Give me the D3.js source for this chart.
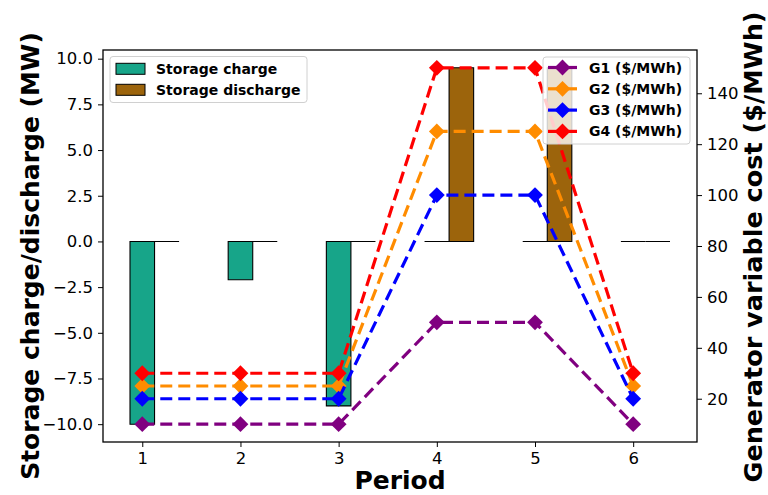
<!DOCTYPE html>
<html>
<head>
<meta charset="utf-8">
<script src="https://cdn.jsdelivr.net/npm/d3@7"></script>
<style>
  html, body { margin: 0; padding: 0; background: #fff; }
  svg text { font-family: "DejaVu Sans", sans-serif; }
</style>
</head>
<body>
<svg id="chart" width="768" height="495"></svg>
<script>
// Storage dispatch per period (MW) and generator variable costs ($/MWh)
const periods = [1, 2, 3, 4, 5, 6];
const storageCharge = [-10, -2.1, -9, 0, 0, 0];
const storageDischarge = [0, 0, 0, 9.5, 9.5, 0];
const costG1 = [10, 10, 10, 50, 50, 10];
const costG2 = [25, 25, 25, 125, 125, 25];
const costG3 = [20, 20, 20, 100, 100, 20];
const costG4 = [30, 30, 30, 150, 150, 30];
const leftTicks = [-10, -7.5, -5, -2.5, 0, 2.5, 5, 7.5, 10];
const rightTicks = [20, 40, 60, 80, 100, 120, 140];

const costSeries = [
  { name: "G1 ($/MWh)", values: costG1, color: "#800080" },
  { name: "G2 ($/MWh)", values: costG2, color: "#ff8c00" },
  { name: "G3 ($/MWh)", values: costG3, color: "#0000ff" },
  { name: "G4 ($/MWh)", values: costG4, color: "#ff0000" }
];
const chargeColor = "#17a589";
const dischargeColor = "#9c640c";

const svg = d3.select("#chart");
const plot = { left: 103, right: 697, top: 50, bottom: 442 };
const barW = 0.25;

const x = d3.scaleLinear().domain([0.6, 6.65]).range([plot.left, plot.right]);
const yL = d3.scaleLinear().domain([-10.975, 10.475]).range([plot.bottom, plot.top]);
const yR = d3.scaleLinear().domain([3, 157]).range([plot.bottom, plot.top]);

// Bars as closed outlines so that zero-valued bars still show their edge
function drawBars(vals, offset, color) {
  svg.append("g").selectAll("path").data(periods).join("path")
    .attr("d", (p, i) => {
      const x0 = x(p + offset - barW / 2), x1 = x(p + offset + barW / 2);
      const y0 = yL(0), y1 = yL(vals[i]);
      return `M${x0},${y0}L${x0},${y1}L${x1},${y1}L${x1},${y0}Z`;
    })
    .attr("fill", color)
    .attr("stroke", "#000")
    .attr("stroke-width", 1.1);
}
drawBars(storageCharge, 0, chargeColor);
drawBars(storageDischarge, barW, dischargeColor);

// Charge / discharge legend
const leg1 = svg.append("g");
leg1.append("rect").attr("x", 110).attr("y", 56.5).attr("width", 197).attr("height", 46)
  .attr("rx", 3).attr("fill", "#fff").attr("fill-opacity", 0.8)
  .attr("stroke", "#d0d0d0").attr("stroke-width", 1);
[["Storage charge", chargeColor], ["Storage discharge", dischargeColor]].forEach(([t, c], i) => {
  const cy = 68.8 + i * 21;
  leg1.append("rect").attr("x", 116).attr("y", cy - 5.5).attr("width", 29).attr("height", 11)
    .attr("fill", c).attr("stroke", "#000").attr("stroke-width", 1);
  leg1.append("text").attr("x", 156).attr("y", cy + 5).attr("font-size", 14)
    .attr("font-weight", "bold").text(t);
});

// Cost lines on the secondary axis
const diamond = d3.symbol().type(d3.symbolSquare).size(125);
costSeries.forEach((s) => {
  const line = d3.line().x((d, i) => x(periods[i])).y((d) => yR(d));
  svg.append("path").datum(s.values).attr("d", line)
    .attr("fill", "none").attr("stroke", s.color).attr("stroke-width", 3.2)
    .attr("stroke-dasharray", "12,6");
  svg.append("g").selectAll("path").data(s.values).join("path")
    .attr("d", diamond)
    .attr("transform", (d, i) => `translate(${x(periods[i])},${yR(d)}) rotate(45)`)
    .attr("fill", s.color);
});

// Generator legend
const leg2 = svg.append("g");
leg2.append("rect").attr("x", 543).attr("y", 57).attr("width", 147).attr("height", 87)
  .attr("rx", 3).attr("fill", "#fff").attr("fill-opacity", 0.8)
  .attr("stroke", "#d0d0d0").attr("stroke-width", 1);
costSeries.forEach((s, i) => {
  const cy = 67.5 + i * 21.3;
  leg2.append("line").attr("x1", 548).attr("x2", 577).attr("y1", cy).attr("y2", cy)
    .attr("stroke", s.color).attr("stroke-width", 3.2);
  leg2.append("path").attr("d", diamond)
    .attr("transform", `translate(562.5,${cy}) rotate(45)`).attr("fill", s.color);
  leg2.append("text").attr("x", 589).attr("y", cy + 5).attr("font-size", 14)
    .attr("font-weight", "bold").text(s.name);
});

// Axes
const fmtL = (d) => d3.format(".1f")(d).replace("-", "\u2212");
const axB = svg.append("g").attr("transform", `translate(0,${plot.bottom})`)
  .call(d3.axisBottom(x).tickValues(periods).tickFormat(d3.format("d")).tickSize(5).tickPadding(5));
const axL = svg.append("g").attr("transform", `translate(${plot.left},0)`)
  .call(d3.axisLeft(yL).tickValues(leftTicks).tickFormat(fmtL).tickSize(5).tickPadding(5));
const axR = svg.append("g").attr("transform", `translate(${plot.right},0)`)
  .call(d3.axisRight(yR).tickValues(rightTicks).tickFormat(d3.format("d")).tickSize(5).tickPadding(5));
[axB, axL, axR].forEach((a) => {
  a.select(".domain").remove();
  a.selectAll("text").attr("font-size", 16.5).attr("fill", "#000")
    .attr("font-family", "DejaVu Sans, sans-serif");
  a.selectAll("line").attr("stroke", "#000").attr("stroke-width", 1);
});

// Frame
svg.append("rect").attr("x", plot.left).attr("y", plot.top)
  .attr("width", plot.right - plot.left).attr("height", plot.bottom - plot.top)
  .attr("fill", "none").attr("stroke", "#000").attr("stroke-width", 1.3);

// Axis titles
const midY = (plot.top + plot.bottom) / 2;
svg.append("text").attr("transform", `translate(39,${midY + 10}) rotate(-90)`)
  .attr("text-anchor", "middle").attr("font-size", 25).attr("font-weight", "bold")
  .text("Storage charge/discharge (MW)");
svg.append("text").attr("transform", `translate(762,${midY + 1}) rotate(-90)`)
  .attr("text-anchor", "middle").attr("font-size", 25.5).attr("font-weight", "bold")
  .text("Generator variable cost ($/MWh)");
svg.append("text").attr("x", (plot.left + plot.right) / 2).attr("y", 489)
  .attr("text-anchor", "middle").attr("font-size", 25).attr("font-weight", "bold")
  .text("Period");
</script>
</body>
</html>
